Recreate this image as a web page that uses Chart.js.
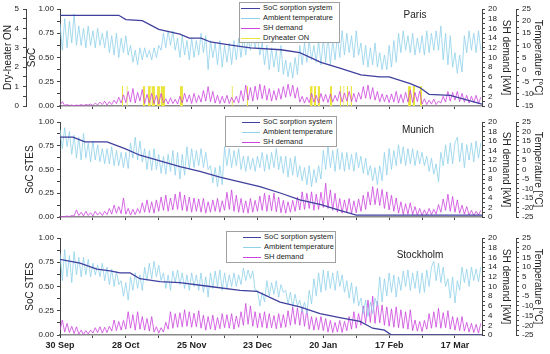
<!DOCTYPE html>
<html>
<head>
<meta charset="utf-8">
<script src="https://cdn.jsdelivr.net/npm/chart.js@4.4.1/dist/chart.umd.min.js"></script>
<style>
body{margin:0;background:#fff;}
#wrap{position:relative;width:550px;height:354px;overflow:hidden;font-family:"Liberation Sans",Arial,sans-serif;}
#wrap canvas{position:absolute;left:0;}
.legend{position:absolute;background:#fff;border:1px solid #a0a0a0;font-size:7.5px;color:#222;z-index:5;box-sizing:border-box;padding-top:0;}
.legend div{height:10px;line-height:10px;white-space:nowrap;}
.legend span{display:inline-block;width:18px;height:0;border-top:1.2px solid;vertical-align:middle;margin:0 3px 0 16px;}
.legend.p1 span{width:19px;margin:0 3px 0 1px;}
.city{position:absolute;font-size:10px;line-height:12px;color:#222;z-index:5;transform:translateX(-50%);}
</style>
</head>
<body>
<div id="wrap">
  <canvas id="paris" width="550" height="120" style="top:0px"></canvas>
  <canvas id="munich" width="550" height="118" style="top:112px"></canvas>
  <canvas id="stockholm" width="550" height="126" style="top:228px"></canvas>

  <div class="legend p1" style="left:239px;top:2px;width:101px;height:41px">
    <div><span style="border-color:#3f3f9e"></span>SoC sorption system</div>
    <div><span style="border-color:#8fd0ea"></span>Ambient temperature</div>
    <div><span style="border-color:#cc44dd"></span>SH demand</div>
    <div><span style="border-color:#ebe43c"></span>Dryheater ON</div>
  </div>
  <div class="legend" style="left:225px;top:116px;width:112px;height:31px">
    <div><span style="border-color:#3f3f9e"></span>SoC sorption system</div>
    <div><span style="border-color:#8fd0ea"></span>Ambient temperature</div>
    <div><span style="border-color:#cc44dd"></span>SH demand</div>
  </div>
  <div class="legend" style="left:226px;top:231px;width:110px;height:32px">
    <div><span style="border-color:#3f3f9e"></span>SoC sorption system</div>
    <div><span style="border-color:#8fd0ea"></span>Ambient temperature</div>
    <div><span style="border-color:#cc44dd"></span>SH demand</div>
  </div>
  <div class="city" style="left:415px;top:9px">Paris</div>
  <div class="city" style="left:418px;top:124px">Munich</div>
  <div class="city" style="left:420px;top:249px">Stockholm</div>
</div>

<script>
// x axis: days since 30 Sep
var dayTicks = ["30 Sep", "28 Oct", "25 Nov", "23 Dec", "20 Jan", "17 Feb", "17 Mar"];

// Paris - one value per day
var parisTemp = [
  19, 8, 21, 9, 20, 11, 23, 10, 18, 10,
  17, 9, 18, 10, 16, 9, 17, 10, 15, 9,
  16, 7, 14, 6, 15, 5, 13, 7, 14, 6,
  10, 3, 8, 2, 9, 4, 9, 5, 8, 4,
  9, 5, 10, 8, 15, 9, 16, 10, 16, 8,
  13, 5, 14, 6, 12, 4, 13, 5, 12, 6,
  15, 7, 14, 0, 12, 5, 11, 2, 12, 1,
  10, 3, 11, 2, 12, 4, 13, 5, 14, 6,
  13, 8, 15, 9, 14, 6, 11, 2, 10, 0,
  9, 1, 8, -1, 10, -2, 4, -3, 3, -3.5,
  5, -2, 10, 2, 11, 3, 12, 4, 10, 3,
  12, 2, 13, 3, 14, 2, 12, 4, 14, 5,
  16, 6, 15, 7, 14, 5, 16, 6, 11, 2,
  10, 1, 9, 2, 11, 1, 7, 0, 6, 0,
  10, 1, 12, 3, 15, 7, 16, 8, 14, 7,
  15, 6, 13, 7, 14, 6, 16, 7, 15, 8,
  16, 8, 18, 4, 15, 2, 14, 1, 7, -1.5,
  6, -1, 14, 7, 16, 8, 15, 7, 16, 8
];
var parisSH = [
  0.2, 0.9, 0.1, 0.3, 0.1, 0.2, 0, 0.2, 0.1, 0.3,
  0.1, 0.3, 0.2, 0.4, 0.1, 0.6, 0.2, 0.8, 0.3, 1.0,
  0.2, 0.9, 0.3, 1.2, 0.5, 1.8, 0.6, 2.3, 0.7, 3.0,
  0.8, 3.6, 0.6, 2.8, 1.0, 3.4, 0.5, 2.4, 0.6, 2.6,
  0.5, 2.2, 0.4, 2.6, 0.6, 1.5, 0.4, 1.7, 0.5, 1.4,
  0.4, 2.0, 0.6, 2.6, 0.8, 2.3, 0.5, 2.6, 0.7, 2.2,
  0.8, 3.2, 1.0, 4.0, 0.9, 3.0, 0.6, 2.2, 0.5, 2.0,
  0.6, 2.2, 0.5, 1.8, 0.7, 2.0, 0.6, 3.2, 1.0, 4.3,
  1.2, 3.8, 1.0, 4.1, 1.3, 4.5, 1.5, 4.2, 1.2, 3.6,
  1.0, 3.2, 1.2, 3.6, 1.4, 4.0, 1.8, 4.5, 2.0, 4.3,
  1.6, 3.8, 0.8, 2.0, 0.6, 1.8, 0.7, 2.6, 0.8, 2.2,
  0.6, 2.6, 0.9, 2.4, 0.7, 2.5, 0.8, 2.2, 1.0, 3.0,
  0.8, 2.7, 1.0, 3.0, 0.9, 2.6, 0.8, 2.8, 1.4, 4.0,
  1.6, 4.3, 1.4, 3.8, 1.2, 3.0, 0.8, 2.5, 0.9, 2.3,
  0.7, 2.5, 0.8, 3.0, 0.6, 2.4, 0.7, 2.8, 0.8, 3.3,
  0.7, 2.8, 0.9, 3.1, 0.4, 1.5, 0.3, 1.2, 0.4, 1.4,
  0.3, 1.0, 0.6, 2.0, 0.8, 3.0, 1.0, 2.8, 1.2, 3.0,
  0.9, 2.6, 0.8, 2.2, 0.6, 2.0, 0.7, 2.2, 0.5, 1.8
];
var parisSocDay = [0, 25, 28, 35, 42, 51, 55, 60, 64, 72, 81, 94, 102, 111, 119, 128, 136, 140, 149, 153, 157, 166, 179.5];
var parisSocVal = [0.935, 0.935, 0.89, 0.88, 0.79, 0.74, 0.70, 0.70, 0.66, 0.63, 0.60, 0.58, 0.55, 0.45, 0.39, 0.32, 0.30, 0.30, 0.23, 0.19, 0.12, 0.11, 0.02];
// dry-heater on periods (start / end day)
var dryOnStart = [26.3, 28.3, 35.3, 37.4, 38.9, 41.3, 42.8, 51.0, 73.0, 79.5, 106.3, 108.0, 109.6, 114.8, 119.0, 120.5, 122.0, 123.6, 148.0, 150.0, 153.1];
var dryOnEnd   = [26.8, 28.8, 36.2, 38.6, 40.4, 42.5, 44.7, 52.3, 73.5, 80.0, 107.5, 109.0, 110.6, 115.7, 119.6, 121.0, 122.6, 124.2, 149.3, 151.0, 154.0];

// Munich
var munichTemp = [
  21, 11, 22, 12, 20, 8, 18, 6, 17, 5,
  19, 6, 14, 4, 15, 5, 13, 4, 11, 3,
  11, 3, 12, 2, 10, 2, 9, 1, 9, 0.5,
  14, 6, 17, 5, 15, 4, 11, 0, 10, -0.5,
  11, 0, 8, -2, 7, -2.5, 8, -1, 10, -3,
  9, -5, 8, -3, 12, 0, 11, 1, 10, 2,
  11, 1, 9, 0, 2, -7, 1, -9, 2, -8,
  12, 2, 11, 1, 10, 2, 11, 0, 7, -1,
  7, 0, 6, -1, 7, 1, 9, -1, 8, 0,
  9, 1, 11, 0, 7, -2, 7, -4, 6, -3,
  7, -4, 2, -6, 1, -8, 2, -9, 0, -7,
  2, -5, 10, 0, 12, 1, 10, -1, 11, 0,
  9, -1, 9, 0, 8, -1, 9, 1, 7, -2,
  6, -3, 2, -6, 1, -8, 2, -6, 9, -3,
  11, 0, 10, 2, 13, 3, 12, 2, 11, 3,
  11, 2, 10, 3, 9, 2, 7, -1, 6, -2.5,
  3, -6.5, 9, 2, 13, 3, 14, 3, 14, 17,
  4, 14, 1, 13, 5, 14, 4, 15, 6, 14
];
var munichSH = [
  0, 0.1, 0.1, 0.2, 0.1, 0.3, 0.2, 1.5, 0.3, 1.0,
  0.2, 1.2, 0.3, 0.9, 0.2, 1.2, 0.4, 1.0, 0.3, 1.2,
  0.5, 1.8, 0.6, 2.5, 0.8, 2.2, 0.7, 4.0, 0.6, 1.8,
  0.4, 1.6, 0.5, 1.8, 0.8, 3.0, 1.0, 3.6, 0.9, 3.2,
  0.8, 3.6, 1.2, 4.2, 1.4, 4.6, 1.2, 4.0, 1.5, 4.8,
  1.6, 5.3, 1.4, 4.6, 1.2, 4.2, 1.0, 4.0, 1.2, 3.8,
  1.0, 3.9, 0.8, 3.2, 1.0, 3.6, 1.2, 3.9, 1.0, 3.4,
  1.4, 5.2, 1.6, 5.7, 1.2, 4.6, 1.0, 3.9, 0.9, 3.4,
  0.8, 3.9, 1.0, 3.5, 1.2, 4.4, 1.4, 5.0, 1.2, 4.6,
  1.3, 5.0, 1.1, 4.2, 0.9, 3.5, 0.8, 3.2, 1.0, 3.5,
  1.2, 4.2, 1.5, 5.3, 1.6, 5.0, 1.8, 5.3, 1.4, 4.8,
  1.6, 5.2, 2.0, 7.1, 1.8, 5.7, 1.4, 5.0, 1.0, 3.9,
  0.8, 3.6, 1.0, 3.9, 0.7, 3.4, 0.9, 3.8, 1.2, 4.6,
  1.6, 5.3, 2.5, 6.4, 2.6, 6.0, 2.4, 5.8, 1.8, 5.3,
  1.5, 4.6, 1.2, 4.0, 0.8, 3.2, 0.5, 2.8, 0.6, 3.0,
  0.5, 2.2, 0.4, 1.8, 0.3, 1.5, 0.4, 1.8, 0.5, 1.6,
  0.6, 2.6, 1.0, 3.8, 1.4, 4.8, 1.2, 4.3, 1.0, 3.6,
  0.8, 2.5, 0.6, 2.2, 0.4, 1.4, 0.3, 1.2, 0.4, 1.4
];
var munichSocDay = [0, 5.5, 10.6, 20, 27.6, 34, 42.5, 51, 59.5, 68, 85, 94, 102, 111, 119, 126, 179.5];
var munichSocVal = [0.84, 0.84, 0.79, 0.79, 0.72, 0.65, 0.59, 0.53, 0.48, 0.42, 0.32, 0.25, 0.18, 0.13, 0.07, 0.02, 0.02];

// Stockholm
var stockholmTemp = [
  17, 3, 19, 5, 16, 2, 18, 6, 15, 5,
  15, 6, 14, 5, 12, 6, 11, 5, 12, 3,
  10, 1, 9, 0, 8, 1, 3, -5, 2, -7,
  5, -2, 7, -1, 6, -2, 10, 3, 12, 4,
  13, 5, 11, 3, 7, -1, 6, -2, 8, 2,
  8.5, 1, 7, -1, 6, -2, 7, 0, 6, -2,
  7, -3, 5, -5.5, 7, -1, 8, 0, 8.5, -2,
  7, -1, 6, 0, 7, 0, 6, 1, 9.5, 3,
  8.5, 4, 8, -2, -2, -10, -3, -8, 3, -5,
  2, -4, 3, -5.5, 1, -3, -2, -9, -3, -10.5,
  -4, -10, -7, -13, -8, -14, -2, -9, 4, -5,
  7, -3, 8.5, -2, 8, -1, 7, -2, 8, 0,
  6, -3, 3, -6, 2, -8.7, 0, -10, -6, -14,
  -7, -15.5, -8, -14, -6, -10, 5, -8, 4, -5,
  7, -3, 6, -5.5, 5, -2, 8, 0, 8.5, -2,
  7, -1, 8, -3.5, 7, -3, 8.5, 0, 10, 13,
  3, 12, 2, 10, 0, 4, -6, 5, -8.5, 3,
  -2, 10, 2, 9, 0, 10, 3, 9, 2.5, 10
];
var stockholmSH = [
  1.0, 3.1, 0.6, 2.4, 0.5, 1.8, 0.3, 1.7, 0.2, 1.0,
  0.1, 0.9, 0.2, 1.0, 0.4, 1.5, 0.5, 1.7, 0.4, 1.6,
  0.5, 1.8, 0.8, 3.1, 0.9, 2.8, 1.0, 3.0, 1.2, 4.8,
  1.4, 4.2, 1.0, 4.8, 1.2, 3.8, 1.0, 3.4, 0.8, 3.8,
  0.6, 1.7, 0.4, 1.5, 0.6, 2.6, 1.2, 4.8, 1.4, 4.4,
  1.6, 4.6, 1.7, 5.2, 1.8, 4.8, 1.6, 4.5, 1.7, 5.0,
  1.4, 4.1, 1.0, 3.8, 1.2, 4.1, 1.0, 3.6, 1.3, 4.4,
  1.5, 4.2, 1.4, 4.4, 1.2, 3.9, 1.6, 4.8, 2.0, 6.5,
  2.2, 6.0, 1.8, 4.8, 1.5, 4.5, 1.6, 4.8, 1.4, 4.4,
  1.5, 4.0, 1.3, 4.4, 1.5, 4.2, 1.6, 5.0, 2.0, 5.8,
  2.2, 5.6, 2.0, 5.8, 1.8, 5.2, 1.2, 3.8, 1.0, 3.6,
  1.1, 3.8, 0.9, 3.4, 0.6, 3.0, 0.5, 2.6, 0.6, 3.0,
  0.5, 2.8, 0.9, 3.8, 1.2, 4.8, 1.4, 4.4, 2.0, 6.0,
  2.4, 7.2, 2.6, 8.0, 2.4, 7.0, 2.5, 6.2, 2.0, 5.8,
  1.8, 5.4, 1.6, 5.8, 1.5, 5.2, 1.4, 4.8, 1.2, 5.2,
  0.9, 3.1, 0.8, 2.8, 0.7, 3.0, 1.2, 4.4, 1.4, 4.8,
  1.6, 5.5, 1.4, 4.6, 1.5, 5.0, 1.2, 3.8, 1.0, 3.6,
  0.9, 3.8, 0.8, 2.6, 0.6, 2.4, 0.5, 2.2, 0.4, 2.4
];
var stockholmSocDay = [0, 8.5, 15.7, 21.3, 25.5, 29.8, 34, 42.5, 51, 63.8, 76.6, 83.8, 93.6, 102, 110.6, 119, 127.6, 133, 138, 141, 179.5];
var stockholmSocVal = [0.78, 0.74, 0.68, 0.66, 0.64, 0.64, 0.58, 0.55, 0.54, 0.50, 0.46, 0.45, 0.34, 0.29, 0.22, 0.18, 0.14, 0.07, 0.05, 0.0, 0.0];

Chart.defaults.font.family = '"Liberation Sans", Arial, sans-serif';
Chart.defaults.color = '#222';

function perDay(arr) {
  return arr.map(function (v, i) { return {x: i, y: v}; });
}
function pairs(days, vals) {
  return days.map(function (d, i) { return {x: d, y: vals[i]}; });
}
function dryPts() {
  var out = [];
  for (var i = 0; i < dryOnStart.length; i++) {
    out.push({x: dryOnStart[i], y: 1});
    out.push({x: dryOnEnd[i], y: 1});
    out.push({x: dryOnEnd[i] + 0.01, y: null});
  }
  return out;
}
function fixW(w) { return function (s) { s.width = w; }; }
function fixH(h) { return function (s) { s.height = h; }; }
function near(v, step) { return Math.abs(v / step - Math.round(v / step)) < 1e-6; }

var grid = { drawOnChartArea: false, drawTicks: true, tickLength: 3, color: '#444' };
var border = { display: true, color: '#444', width: 1 };
var tickFont = { size: 8 };
var titleFont = { size: 10 };

function makePanel(id, p) {
  var scales = {
    x: {
      type: 'linear', position: 'bottom', min: 0, max: 179.5,
      grid: grid, border: { display: true, color: '#8a8a8a', width: 1.5 },
      afterBuildTicks: function (s) { s.ticks = s.ticks.filter(function (t) { return near(t.value, 14); }); },
      afterFit: fixH(p.xHeight),
      ticks: {
        stepSize: 14, includeBounds: false, autoSkip: false, maxRotation: 0, padding: 2,
        font: { size: 9, weight: 'bold' },
        callback: function (v) { return (p.xLabels && near(v, 28)) ? dayTicks[Math.round(v / 28)] : ''; }
      }
    },
    soc: {
      position: 'left', weight: 0, min: 0, max: 1,
      grid: grid, border: border, afterFit: fixW(p.socWidth),
      ticks: { stepSize: 0.125, autoSkip: false, font: tickFont, padding: 3,
        callback: function (v) { return near(v, 0.25) ? v.toFixed(2) : ''; } },
      title: { display: true, text: p.socTitle, font: titleFont, padding: { top: p.socTitlePad, bottom: 0 } }
    },
    sh: {
      position: 'right', weight: 0, min: 0, max: 20,
      grid: grid, border: border, afterFit: fixW(34),
      ticks: { stepSize: 1, autoSkip: false, font: tickFont, padding: 3,
        callback: function (v) { return near(v, 2) ? String(v) : ''; } },
      title: { display: true, text: 'SH demand [kW]', font: titleFont, padding: { top: 4, bottom: 0 } }
    },
    temp: {
      position: 'right', weight: 1, min: p.tMin, max: 25,
      grid: grid, border: border, afterFit: fixW(34),
      ticks: { stepSize: 2.5, autoSkip: false, font: tickFont, padding: 3,
        callback: function (v) { return near(v, 5) ? String(v) : ''; } },
      title: { display: true, text: 'Temperature [°C]', font: titleFont, padding: { top: 6, bottom: 0 } }
    }
  };

  var datasets = [
    { label: 'SoC sorption system', data: pairs(p.socDay, p.socVal), yAxisID: 'soc',
      borderColor: '#3f3f9e', borderWidth: 1.3 },
    { label: 'Ambient temperature', data: perDay(p.temp), yAxisID: 'temp',
      borderColor: '#8fd0ea', borderWidth: 0.8 },
    { label: 'SH demand', data: perDay(p.sh), yAxisID: 'sh',
      borderColor: '#cc44dd', borderWidth: 0.8 }
  ];

  if (p.dry) {
    scales.dh = {
      position: 'left', weight: 1, min: 0, max: 5,
      grid: grid, border: border, afterFit: fixW(26),
      ticks: { stepSize: 0.5, autoSkip: false, font: tickFont, padding: 4,
        callback: function (v) { return near(v, 1) ? String(v) : ''; } },
      title: { display: true, text: 'Dry-heater ON', font: titleFont, padding: { top: 2, bottom: 0 } }
    };
    datasets.push({ label: 'Dryheater ON', data: dryPts(), yAxisID: 'dh',
      borderColor: '#e6df2e', backgroundColor: '#ebe43c', borderWidth: 0.6,
      fill: 'origin', spanGaps: false });
  }

  new Chart(document.getElementById(id), {
    type: 'line',
    data: { datasets: datasets },
    options: {
      responsive: false, animation: false, devicePixelRatio: 1,
      layout: { padding: { top: p.padTop, left: p.padLeft, right: 0, bottom: 0 } },
      plugins: { legend: { display: false }, tooltip: { enabled: false } },
      elements: { point: { radius: 0 }, line: { tension: 0 } },
      scales: scales
    }
  });
}

makePanel('paris', {
  temp: parisTemp, sh: parisSH, socDay: parisSocDay, socVal: parisSocVal, dry: true,
  tMin: -15, socTitle: 'SoC', socWidth: 34, socTitlePad: 0, padLeft: 0, padTop: 9, xHeight: 14, xLabels: false
});
makePanel('munich', {
  temp: munichTemp, sh: munichSH, socDay: munichSocDay, socVal: munichSocVal, dry: false,
  tMin: -25, socTitle: 'SoC STES', socWidth: 40, socTitlePad: 4, padLeft: 20, padTop: 10, xHeight: 13, xLabels: false
});
makePanel('stockholm', {
  temp: stockholmTemp, sh: stockholmSH, socDay: stockholmSocDay, socVal: stockholmSocVal, dry: false,
  tMin: -25, socTitle: 'SoC STES', socWidth: 40, socTitlePad: 4, padLeft: 20, padTop: 10, xHeight: 19, xLabels: true
});
</script>
</body>
</html>
